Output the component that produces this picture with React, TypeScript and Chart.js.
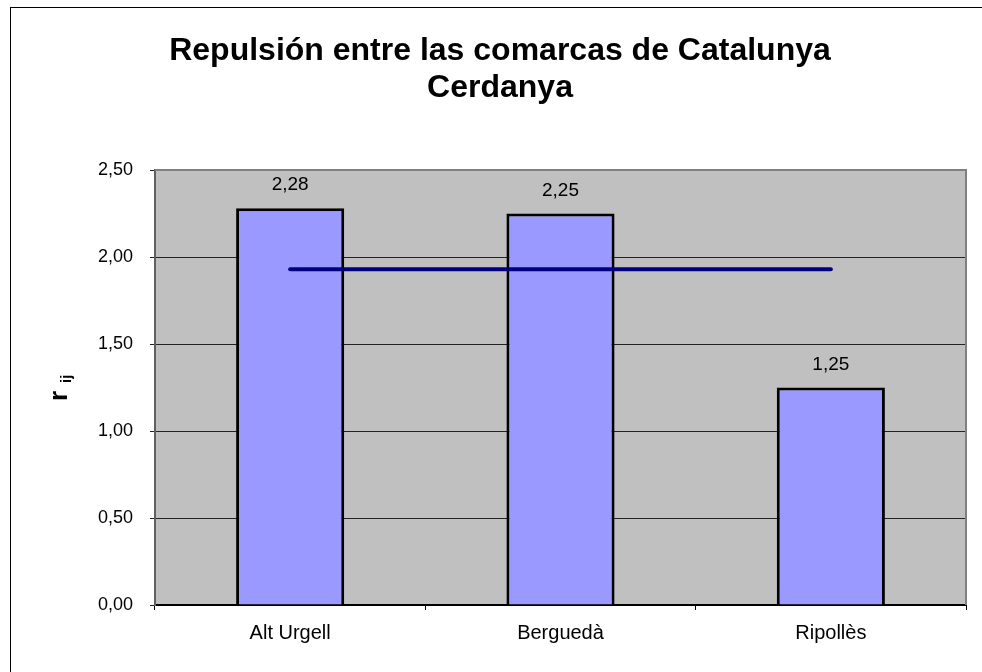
import React, { useEffect, useRef } from "react";
import { Chart, registerables } from "chart.js";

Chart.register(...registerables);

const titleLines = ["Repulsión entre las comarcas de Catalunya", "Cerdanya"];
const categories = ["Alt Urgell", "Berguedà", "Ripollès"];
const repulsion = [2.28, 2.25, 1.25];
const average = [1.93, 1.93, 1.93];
const yTicks = [0, 0.5, 1, 1.5, 2, 2.5];

const FONT = '"Liberation Sans", Arial, sans-serif';
const fmt = (v: number) => v.toFixed(2).replace(".", ",");

export default function App() {
  const ref = useRef<HTMLCanvasElement | null>(null);

  useEffect(() => {
    const canvas = ref.current;
    if (!canvas) return;

    const decor = {
      id: "decor",
      beforeDraw(chart: any) {
        const { ctx, chartArea } = chart;
        ctx.save();
        ctx.fillStyle = "#ffffff";
        ctx.fillRect(0, 0, chart.width, chart.height);
        ctx.fillStyle = "#C0C0C0";
        ctx.fillRect(chartArea.left, chartArea.top, chartArea.right - chartArea.left, chartArea.bottom - chartArea.top);
        ctx.restore();
      },
      afterDatasetsDraw(chart: any) {
        const { ctx } = chart;
        const meta = chart.getDatasetMeta(1);
        ctx.save();
        ctx.fillStyle = "#000";
        ctx.font = `19px ${FONT}`;
        ctx.textAlign = "center";
        ctx.textBaseline = "alphabetic";
        meta.data.forEach((el: any, i: number) => {
          ctx.fillText(fmt(repulsion[i]), el.x, el.y - 18);
        });
        ctx.restore();
      },
      afterDraw(chart: any) {
        const { ctx, chartArea } = chart;
        ctx.save();
        // plot border top/right
        ctx.strokeStyle = "#808080";
        ctx.lineWidth = 2;
        ctx.beginPath();
        ctx.moveTo(chartArea.left, chartArea.top);
        ctx.lineTo(chartArea.right, chartArea.top);
        ctx.lineTo(chartArea.right, chartArea.bottom);
        ctx.stroke();
        // outer frame
        ctx.strokeStyle = "#000";
        ctx.lineWidth = 1;
        ctx.strokeRect(10.5, 7.5, 990, 700);
        // title
        ctx.fillStyle = "#000";
        ctx.font = `bold 32px ${FONT}`;
        ctx.textAlign = "center";
        ctx.textBaseline = "alphabetic";
        ctx.fillText(titleLines[0], 500, 60);
        ctx.fillText(titleLines[1], 500, 97);
        // y-axis title "r ij" rotated
        ctx.translate(67, 401);
        ctx.rotate(-Math.PI / 2);
        ctx.textAlign = "left";
        ctx.font = `bold 26px ${FONT}`;
        ctx.fillText("r", 0, 0);
        ctx.font = `bold 15px ${FONT}`;
        ctx.fillText("ij", 18, 4);
        ctx.restore();
      },
    };

    const chart = new Chart(canvas, {
      type: "bar",
      data: {
        labels: categories,
        datasets: [
          {
            type: "line",
            data: average,
            borderColor: "#000080",
            borderWidth: 4,
            borderCapStyle: "round",
            pointRadius: 0,
            fill: false,
            order: 0,
          } as any,
          {
            type: "bar",
            data: repulsion,
            backgroundColor: "#9999FF",
            borderColor: "#000000",
            borderWidth: 3,
            barPercentage: 0.4,
            categoryPercentage: 1,
            order: 1,
          },
        ],
      },
      options: {
        responsive: false,
        animation: false,
        events: [],
        layout: { padding: { top: 170, left: 0, right: 16, bottom: 0 } },
        plugins: {
          legend: { display: false },
          title: { display: false },
          tooltip: { enabled: false },
        },
        scales: {
          x: {
            offset: true,
            grid: {
              display: true,
              offset: true,
              drawOnChartArea: false,
              drawTicks: true,
              tickLength: 5,
              color: "#000",
            },
            border: { display: true, color: "#000", width: 2 },
            ticks: { color: "#000", font: { family: FONT, size: 20 }, padding: 11, maxRotation: 0 },
            afterFit(scale: any) {
              scale.height = 67;
            },
          },
          y: {
            min: 0,
            max: 2.5,
            afterBuildTicks(scale: any) {
              scale.ticks = yTicks.map((v) => ({ value: v }));
            },
            grid: { color: "#222", lineWidth: 1, tickLength: 5, drawTicks: true },
            border: { display: true, color: "#606060", width: 2 },
            ticks: {
              color: "#000",
              font: { family: FONT, size: 18 },
              padding: 17,
              callback: (v: any) => fmt(Number(v)),
            },
            afterFit(scale: any) {
              scale.width = 155;
            },
          },
        },
      } as any,
      plugins: [decor],
    });

    return () => chart.destroy();
  }, []);

  return (
    <div style={{ position: "fixed", left: 0, top: 0, width: 982, height: 672, overflow: "hidden", background: "#fff" }}>
      <canvas ref={ref} width={982} height={672} style={{ display: "block", width: 982, height: 672 }} />
    </div>
  );
}
